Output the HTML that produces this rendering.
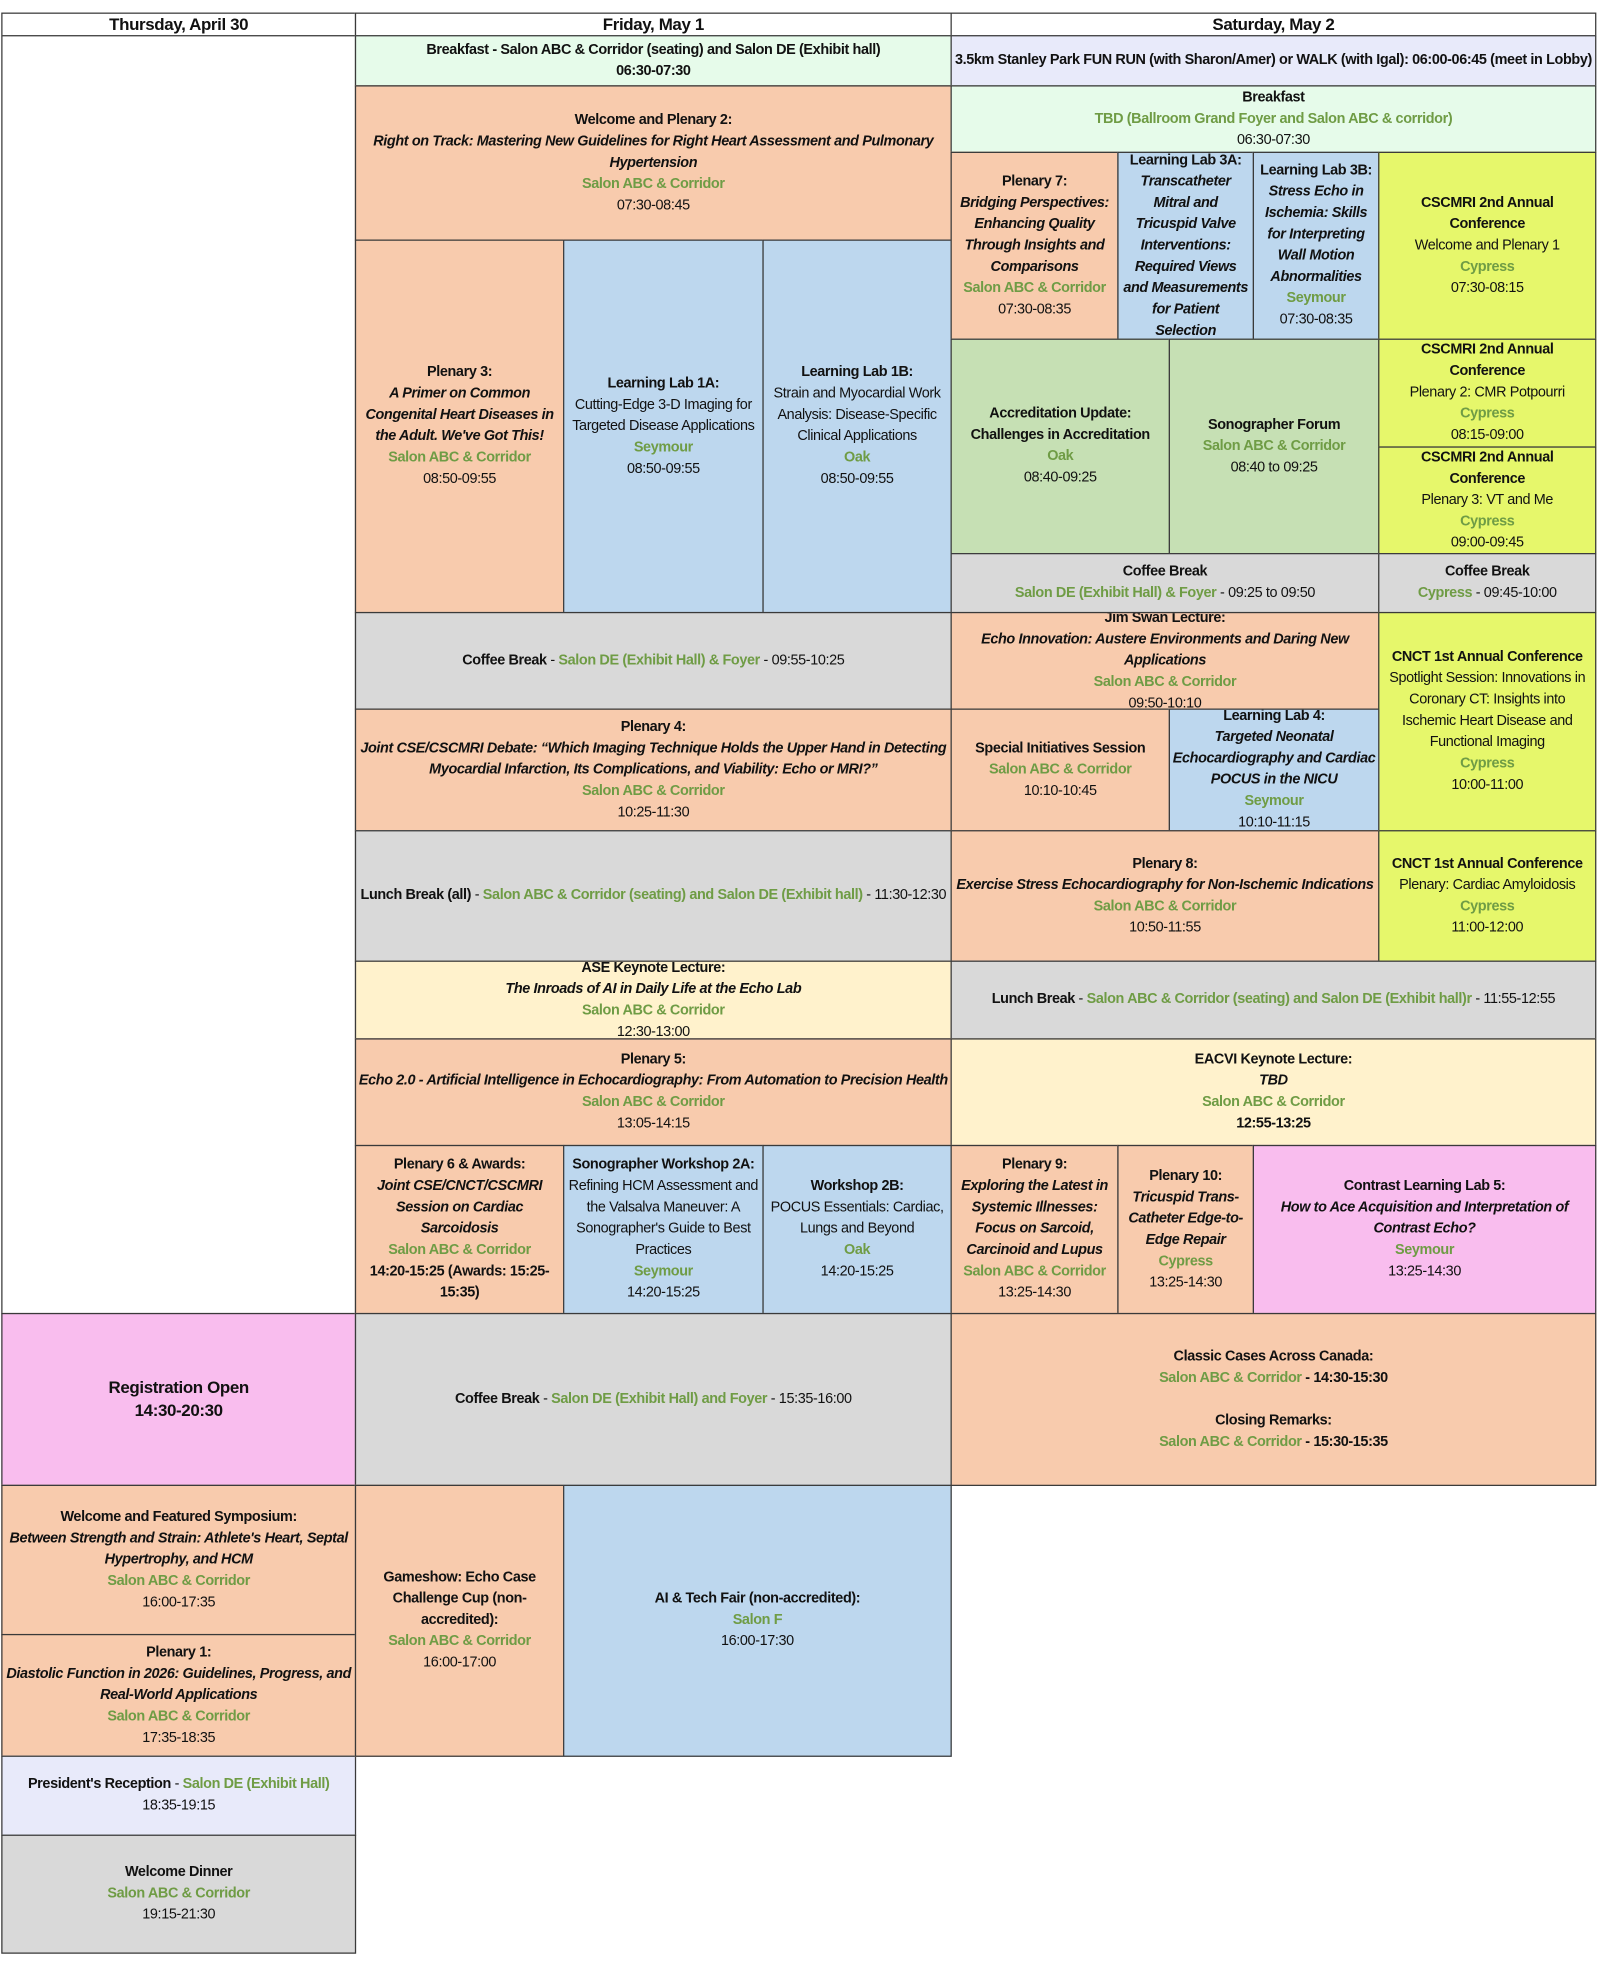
<!DOCTYPE html>
<html><head><meta charset="utf-8">
<style>
html,body{margin:0;padding:0;background:#fff;}
body{width:1600px;height:1972px;overflow:hidden;position:relative;}
#w{position:absolute;left:0;top:0;width:1280px;height:1578px;transform:scale(1.254,1.254);transform-origin:0 0;}
.b{position:absolute;box-sizing:border-box;border:1px solid #3a3a3a;display:flex;flex-direction:column;justify-content:center;align-items:center;text-align:center;font-family:"Liberation Sans Narrow","Liberation Sans",sans-serif;font-size:11.5px;letter-spacing:-0.3px;line-height:17px;color:#111;padding:0 2px;overflow:hidden;}
.h{font-size:13.5px;font-weight:bold;background:#fff;}
b{font-weight:bold;}
i{font-style:italic;font-weight:bold;}
.g{color:#6f9c45;font-weight:bold;}
.o{background:#f8cbad;}
.bl{background:#bdd7ee;}
.gr{background:#d9d9d9;}
.mi{background:#e6fbea;}
.la{background:#e8eafa;}
.cr{background:#fff2cc;}
.gn{background:#c6e0b4;}
.ye{background:#e6f76b;}
.pk{background:#f9bdee;}
.wh{background:#fff;}
</style></head><body><div id="w">
<div class="b h" style="left:1px;top:10px;width:283px;height:19px;">Thursday, April 30</div>
<div class="b h" style="left:283px;top:10px;width:476px;height:19px;">Friday, May 1</div>
<div class="b h" style="left:758px;top:10px;width:515px;height:19px;">Saturday, May 2</div>

<div class="b wh" style="left:1px;top:28px;width:283px;height:1020px;"></div>
<div class="b pk" style="left:1px;top:1047px;width:283px;height:138px;font-size:13.5px;line-height:18px;"><b>Registration Open<br>14:30-20:30</b></div>
<div class="b o" style="left:1px;top:1184px;width:283px;height:120px;"><b>Welcome and Featured Symposium:</b><i>Between Strength and Strain: Athlete's Heart, Septal Hypertrophy, and HCM</i><span class="g">Salon ABC &amp; Corridor</span><span>16:00-17:35</span></div>
<div class="b o" style="left:1px;top:1303px;width:283px;height:98px;"><b>Plenary 1:</b><i>Diastolic Function in 2026: Guidelines, Progress, and Real-World Applications</i><span class="g">Salon ABC &amp; Corridor</span><span>17:35-18:35</span></div>
<div class="b la" style="left:1px;top:1400px;width:283px;height:64px;"><span><b>President's Reception</b> - <span class="g">Salon DE (Exhibit Hall)</span></span><span>18:35-19:15</span></div>
<div class="b gr" style="left:1px;top:1463px;width:283px;height:95px;"><b>Welcome Dinner</b><span class="g">Salon ABC &amp; Corridor</span><span>19:15-21:30</span></div>

<div class="b mi" style="left:283px;top:28px;width:476px;height:41px;"><b>Breakfast - Salon ABC &amp; Corridor (seating) and Salon DE (Exhibit hall)</b><b>06:30-07:30</b></div>
<div class="b o" style="left:283px;top:68px;width:476px;height:124px;"><b>Welcome and Plenary 2:</b><i>Right on Track: Mastering New Guidelines for Right Heart Assessment and Pulmonary Hypertension</i><span class="g">Salon ABC &amp; Corridor</span><span>07:30-08:45</span></div>
<div class="b o" style="left:283px;top:191px;width:167px;height:298px;"><b>Plenary 3:</b><i>A Primer on Common Congenital Heart Diseases in the Adult. We've Got This!</i><span class="g">Salon ABC &amp; Corridor</span><span>08:50-09:55</span></div>
<div class="b bl" style="left:449px;top:191px;width:160px;height:298px;"><b>Learning Lab 1A:</b><span>Cutting-Edge 3-D Imaging for Targeted Disease Applications</span><span class="g">Seymour</span><span>08:50-09:55</span></div>
<div class="b bl" style="left:608px;top:191px;width:151px;height:298px;"><b>Learning Lab 1B:</b><span>Strain and Myocardial Work Analysis: Disease-Specific Clinical Applications</span><span class="g">Oak</span><span>08:50-09:55</span></div>
<div class="b gr" style="left:283px;top:488px;width:476px;height:78px;"><span><b>Coffee Break</b> - <span class="g">Salon DE (Exhibit Hall) &amp; Foyer</span> - 09:55-10:25</span></div>
<div class="b o" style="left:283px;top:565px;width:476px;height:98px;"><b>Plenary 4:</b><i>Joint CSE/CSCMRI Debate: “Which Imaging Technique Holds the Upper Hand in Detecting Myocardial Infarction, Its Complications, and Viability: Echo or MRI?”</i><span class="g">Salon ABC &amp; Corridor</span><span>10:25-11:30</span></div>
<div class="b gr" style="left:283px;top:662px;width:476px;height:105px;"><span><b>Lunch Break (all)</b> - <span class="g">Salon ABC &amp; Corridor (seating) and Salon DE (Exhibit hall)</span> - 11:30-12:30</span></div>
<div class="b cr" style="left:283px;top:766px;width:476px;height:63px;"><b>ASE Keynote Lecture:</b><i>The Inroads of AI in Daily Life at the Echo Lab</i><span class="g">Salon ABC &amp; Corridor</span><span>12:30-13:00</span></div>
<div class="b o" style="left:283px;top:828px;width:476px;height:86px;"><b>Plenary 5:</b><i>Echo 2.0 - Artificial Intelligence in Echocardiography: From Automation to Precision Health</i><span class="g">Salon ABC &amp; Corridor</span><span>13:05-14:15</span></div>
<div class="b o" style="left:283px;top:913px;width:167px;height:135px;"><b>Plenary 6 &amp; Awards:</b><i>Joint CSE/CNCT/CSCMRI Session on Cardiac Sarcoidosis</i><span class="g">Salon ABC &amp; Corridor</span><b>14:20-15:25 (Awards: 15:25-15:35)</b></div>
<div class="b bl" style="left:449px;top:913px;width:160px;height:135px;"><b>Sonographer Workshop 2A:</b><span>Refining HCM Assessment and the Valsalva Maneuver: A Sonographer's Guide to Best Practices</span><span class="g">Seymour</span><span>14:20-15:25</span></div>
<div class="b bl" style="left:608px;top:913px;width:151px;height:135px;"><b>Workshop 2B:</b><span>POCUS Essentials: Cardiac, Lungs and Beyond</span><span class="g">Oak</span><span>14:20-15:25</span></div>
<div class="b gr" style="left:283px;top:1047px;width:476px;height:138px;"><span><b>Coffee Break</b> - <span class="g">Salon DE (Exhibit Hall) and Foyer</span> - 15:35-16:00</span></div>
<div class="b o" style="left:283px;top:1184px;width:167px;height:217px;"><b>Gameshow: Echo Case Challenge Cup (non-accredited):</b><span class="g">Salon ABC &amp; Corridor</span><span>16:00-17:00</span></div>
<div class="b bl" style="left:449px;top:1184px;width:310px;height:217px;"><b>AI &amp; Tech Fair (non-accredited):</b><span class="g">Salon F</span><span>16:00-17:30</span></div>

<div class="b la" style="left:758px;top:28px;width:515px;height:41px;"><b>3.5km Stanley Park FUN RUN (with Sharon/Amer) or WALK (with Igal): 06:00-06:45 (meet in Lobby)</b></div>
<div class="b mi" style="left:758px;top:68px;width:515px;height:54px;"><b>Breakfast</b><span class="g">TBD (Ballroom Grand Foyer and Salon ABC &amp; corridor)</span><span>06:30-07:30</span></div>
<div class="b o" style="left:758px;top:121px;width:134px;height:150px;"><b>Plenary 7:</b><i>Bridging Perspectives: Enhancing Quality Through Insights and Comparisons</i><span class="g">Salon ABC &amp; Corridor</span><span>07:30-08:35</span></div>
<div class="b bl" style="left:891px;top:121px;width:109px;height:150px;"><b>Learning Lab 3A:</b><i>Transcatheter Mitral and Tricuspid Valve Interventions: Required Views and Measurements for Patient Selection</i></div>
<div class="b bl" style="left:999px;top:121px;width:101px;height:150px;"><b>Learning Lab 3B:</b><i>Stress Echo in Ischemia: Skills for Interpreting Wall Motion Abnormalities</i><span class="g">Seymour</span><span>07:30-08:35</span></div>
<div class="b ye" style="left:1099px;top:121px;width:174px;height:150px;"><b>CSCMRI 2nd Annual Conference</b><span>Welcome and Plenary 1</span><span class="g">Cypress</span><span>07:30-08:15</span></div>
<div class="b gn" style="left:758px;top:270px;width:175px;height:172px;"><b>Accreditation Update: Challenges in Accreditation</b><span class="g">Oak</span><span>08:40-09:25</span></div>
<div class="b gn" style="left:932px;top:270px;width:168px;height:172px;"><b>Sonographer Forum</b><span class="g">Salon ABC &amp; Corridor</span><span>08:40 to 09:25</span></div>
<div class="b ye" style="left:1099px;top:270px;width:174px;height:87px;"><b>CSCMRI 2nd Annual Conference</b><span>Plenary 2: CMR Potpourri</span><span class="g">Cypress</span><span>08:15-09:00</span></div>
<div class="b ye" style="left:1099px;top:356px;width:174px;height:86px;"><b>CSCMRI 2nd Annual Conference</b><span>Plenary 3: VT and Me</span><span class="g">Cypress</span><span>09:00-09:45</span></div>
<div class="b gr" style="left:758px;top:441px;width:342px;height:48px;"><b>Coffee Break</b><span><span class="g">Salon DE (Exhibit Hall) &amp; Foyer</span> - 09:25 to 09:50</span></div>
<div class="b gr" style="left:1099px;top:441px;width:174px;height:48px;"><b>Coffee Break</b><span><span class="g">Cypress</span> - 09:45-10:00</span></div>
<div class="b o" style="left:758px;top:488px;width:342px;height:78px;"><b>Jim Swan Lecture:</b><i>Echo Innovation: Austere Environments and Daring New Applications</i><span class="g">Salon ABC &amp; Corridor</span><span>09:50-10:10</span></div>
<div class="b ye" style="left:1099px;top:488px;width:174px;height:175px;"><b>CNCT 1st Annual Conference</b><span>Spotlight Session: Innovations in Coronary CT: Insights into Ischemic Heart Disease and Functional Imaging</span><span class="g">Cypress</span><span>10:00-11:00</span></div>
<div class="b o" style="left:758px;top:565px;width:175px;height:98px;"><b>Special Initiatives Session</b><span class="g">Salon ABC &amp; Corridor</span><span>10:10-10:45</span></div>
<div class="b bl" style="left:932px;top:565px;width:168px;height:98px;"><b>Learning Lab 4:</b><i>Targeted Neonatal Echocardiography and Cardiac POCUS in the NICU</i><span class="g">Seymour</span><span>10:10-11:15</span></div>
<div class="b o" style="left:758px;top:662px;width:342px;height:105px;"><b>Plenary 8:</b><i>Exercise Stress Echocardiography for Non-Ischemic Indications</i><span class="g">Salon ABC &amp; Corridor</span><span>10:50-11:55</span></div>
<div class="b ye" style="left:1099px;top:662px;width:174px;height:105px;"><b>CNCT 1st Annual Conference</b><span>Plenary: Cardiac Amyloidosis</span><span class="g">Cypress</span><span>11:00-12:00</span></div>
<div class="b gr" style="left:758px;top:766px;width:515px;height:63px;"><span><b>Lunch Break</b> - <span class="g">Salon ABC &amp; Corridor (seating) and Salon DE (Exhibit hall)r</span> - 11:55-12:55</span></div>
<div class="b cr" style="left:758px;top:828px;width:515px;height:86px;"><b>EACVI Keynote Lecture:</b><i>TBD</i><span class="g">Salon ABC &amp; Corridor</span><b>12:55-13:25</b></div>
<div class="b o" style="left:758px;top:913px;width:134px;height:135px;"><b>Plenary 9:</b><i>Exploring the Latest in Systemic Illnesses: Focus on Sarcoid, Carcinoid and Lupus</i><span class="g">Salon ABC &amp; Corridor</span><span>13:25-14:30</span></div>
<div class="b o" style="left:891px;top:913px;width:109px;height:135px;"><b>Plenary 10:</b><i>Tricuspid Trans-Catheter Edge-to-Edge Repair</i><span class="g">Cypress</span><span>13:25-14:30</span></div>
<div class="b pk" style="left:999px;top:913px;width:274px;height:135px;"><b>Contrast Learning Lab 5:</b><i>How to Ace Acquisition and Interpretation of Contrast Echo?</i><span class="g">Seymour</span><span>13:25-14:30</span></div>
<div class="b o" style="left:758px;top:1047px;width:515px;height:138px;"><b>Classic Cases Across Canada:</b><span><span class="g">Salon ABC &amp; Corridor</span> <b>- 14:30-15:30</b></span><span>&nbsp;</span><b>Closing Remarks:</b><span><span class="g">Salon ABC &amp; Corridor</span> <b>- 15:30-15:35</b></span></div>
</div></body></html>
